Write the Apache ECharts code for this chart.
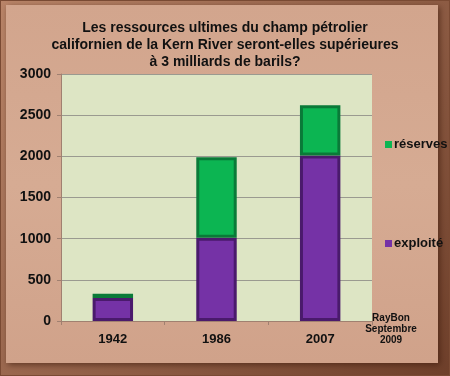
<!DOCTYPE html>
<html>
<head>
<meta charset="utf-8">
<script src="https://cdn.jsdelivr.net/npm/echarts@6/dist/echarts.min.js"></script>
<style>
    html, body { margin: 0; padding: 0; background: #7a4a33; }
    #chart { width: 450px; height: 376px; }
</style>
</head>
<body>
<div id="chart"></div>
<script>
// données
var annees = ['1942', '1986', '2007'];
var exploite = [280, 1010, 2010];
var reserves = [50, 980, 610];
var yTicks = [0, 500, 1000, 1500, 2000, 2500, 3000];

var chart = echarts.init(document.getElementById('chart'));

var fnt = 'Liberation Sans, Arial, sans-serif';

var option = {
    animation: false,
    backgroundColor: '#7a4a33',
    graphic: [
        {
            type: 'rect', z: -10, silent: true,
            shape: { x: 1, y: 1, width: 448, height: 374 },
            style: {
                fill: new echarts.graphic.LinearGradient(0, 0, 1, 1, [
                    { offset: 0, color: '#b98468' },
                    { offset: 1, color: '#6e3f2a' }
                ])
            }
        },
        {
            type: 'rect', z: -9, silent: true,
            shape: { x: 6, y: 5, width: 432, height: 358 },
            style: {
                fill: new echarts.graphic.LinearGradient(0, 0, 0, 1, [
                    { offset: 0, color: '#d2a58d' },
                    { offset: 0.5, color: '#d6ab93' },
                    { offset: 1, color: '#d0a28a' }
                ]),
                shadowBlur: 6, shadowColor: 'rgba(60,25,10,0.6)', shadowOffsetX: 2, shadowOffsetY: 2
            }
        },
        {
            type: 'text', x: 391, y: 313, silent: true,
            style: {
                text: 'RayBon\nSeptembre\n2009', fill: '#111', font: 'bold 10px ' + fnt,
                align: 'center', verticalAlign: 'top', lineHeight: 11
            }
        }
    ],
    title: {
        text: 'Les ressources ultimes du champ pétrolier\ncalifornien de la Kern River seront-elles supérieures\nà 3 milliards de barils?',
        left: 'center', top: 15,
        textStyle: { fontFamily: fnt, fontSize: 14, fontWeight: 'bold', color: '#111', lineHeight: 17 }
    },
    legend: {
        orient: 'vertical', left: 380, top: 133, itemGap: 86,
        itemWidth: 7, itemHeight: 7, icon: 'rect',
        data: ['réserves', 'exploité'],
        itemStyle: { borderWidth: 0 },
        textStyle: { fontFamily: fnt, fontSize: 13, fontWeight: 'bold', color: '#111', padding: [0, 0, 0, -3] }
    },
    grid: {
        left: 61, right: 78, top: 74, bottom: 55,
        show: true, backgroundColor: '#dde5c4', borderWidth: 0
    },
    xAxis: {
        type: 'category', data: annees,
        axisLine: { show: true, lineStyle: { color: '#a08070' } },
        axisTick: { show: true, length: 4, lineStyle: { color: '#a08070' } },
        axisLabel: { fontFamily: fnt, fontSize: 13, fontWeight: 'bold', color: '#111', margin: 12 }
    },
    yAxis: {
        type: 'value', min: 0, max: 3000, interval: 500,
        axisLine: { show: true, lineStyle: { color: '#a08070' } },
        axisTick: { show: true, length: 4, lineStyle: { color: '#a08070' } },
        splitLine: { lineStyle: { color: '#9a9a90', width: 1 } },
        axisLabel: {
            fontFamily: fnt, fontSize: 14, fontWeight: 'bold', color: '#111', margin: 10,
            formatter: function (v) { return yTicks.indexOf(v) >= 0 ? String(v) : ''; }
        }
    },
    series: [
        {
            name: 'exploité', type: 'bar', stack: 'total', data: exploite, barWidth: '39%',
            itemStyle: { color: '#7532a6', borderColor: '#4a1a6c', borderWidth: 3 }
        },
        {
            name: 'réserves', type: 'bar', stack: 'total', data: reserves,
            itemStyle: { color: '#0cb552', borderColor: '#0a7a38', borderWidth: 3 }
        }
    ]
};

chart.setOption(option);
</script>
</body>
</html>
